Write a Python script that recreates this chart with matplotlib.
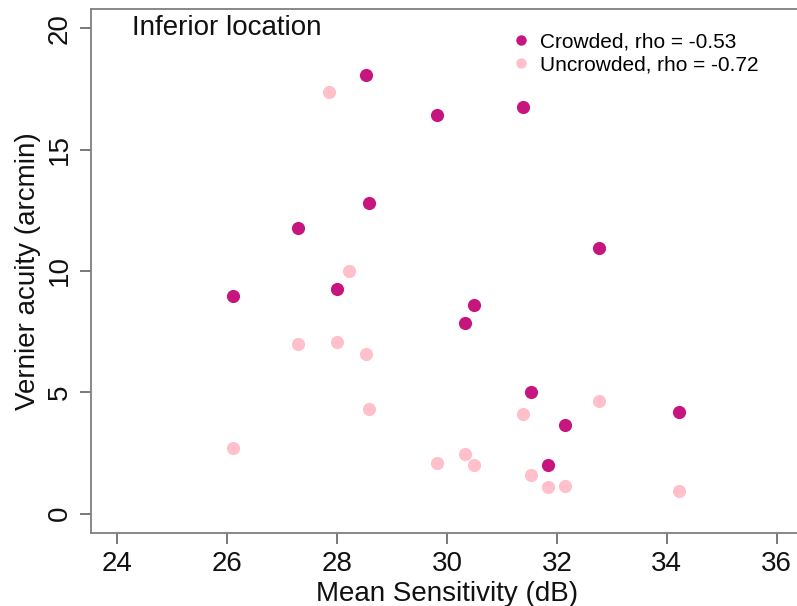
import matplotlib
matplotlib.use("Agg")
import matplotlib.pyplot as plt
from matplotlib.lines import Line2D

plt.rcParams['font.family'] = ['Liberation Sans', 'DejaVu Sans']

# Mean sensitivity (dB) and vernier acuity (arcmin), inferior location
crowded_x = [26.11, 27.29, 28.00, 28.53, 28.58, 29.82, 30.33, 30.49, 31.38,
             31.52, 31.84, 32.15, 32.76, 34.22]
crowded_y = [8.97, 11.77, 9.26, 18.07, 12.80, 16.42, 7.86, 8.60, 16.75,
             5.00, 2.00, 3.65, 10.95, 4.20]

uncrowded_x = [26.11, 27.29, 27.85, 28.00, 28.22, 28.53, 28.58, 29.82, 30.33,
               30.49, 31.38, 31.52, 31.84, 32.15, 32.76, 34.22]
uncrowded_y = [2.72, 7.00, 17.37, 7.08, 10.00, 6.58, 4.30, 2.10, 2.45,
               2.00, 4.12, 1.60, 1.11, 1.15, 4.65, 0.95]

crowded_label = "Crowded, rho = -0.53"
uncrowded_label = "Uncrowded, rho = -0.72"
panel_title = "Inferior location"
x_ticks = [24, 26, 28, 30, 32, 34, 36]
y_ticks = [0, 5, 10, 15, 20]

crowded_color = "#C7157F"
uncrowded_color = "#FFC0CB"

W, H = 797, 606
fig = plt.figure(figsize=(W / 100, H / 100), dpi=100)
ax = fig.add_axes([91 / W, (H - 533) / H, (803 - 91) / W, (533 - 9) / H])

ax.scatter(uncrowded_x, uncrowded_y, s=90, color=uncrowded_color, linewidths=0, zorder=2)
ax.scatter(crowded_x, crowded_y, s=90, color=crowded_color, linewidths=0, zorder=3)

ax.set_xlim(23.52, 36.48)
ax.set_ylim(-0.8, 20.8)
ax.set_xticks(x_ticks)
ax.set_yticks(y_ticks)

spine_color = "#7f7f7f"
for side in ["left", "bottom", "top", "right"]:
    ax.spines[side].set_color(spine_color)
    ax.spines[side].set_linewidth(1.3)

ax.tick_params(axis="both", direction="out", length=8, width=1.1, color="#555555",
               labelsize=20, labelcolor="#111111", pad=5)
for lbl in ax.get_yticklabels():
    lbl.set_rotation(90)
    lbl.set_va("center")

ax.set_xlabel("Mean Sensitivity (dB)", fontsize=20, color="#111111", labelpad=3)
ax.set_ylabel("Vernier acuity (arcmin)", fontsize=20, color="#111111", labelpad=4)

ax.text(24.27, 20.0, panel_title, fontsize=20, color="#111111", va="center", ha="left")

handles = [
    Line2D([], [], marker="o", linestyle="none", markersize=7.5,
           markerfacecolor=crowded_color, markeredgewidth=0),
    Line2D([], [], marker="o", linestyle="none", markersize=7.5,
           markerfacecolor=uncrowded_color, markeredgewidth=0),
]
ax.legend(handles, [crowded_label, uncrowded_label], loc="upper left",
          bbox_transform=fig.transFigure, bbox_to_anchor=(513 / W, 1 - 32 / H),
          frameon=False, fontsize=15, handlelength=0.8, handletextpad=0.5,
          labelspacing=0.2, borderpad=0, borderaxespad=0)

fig.savefig("out.png", dpi=100, facecolor="white")
